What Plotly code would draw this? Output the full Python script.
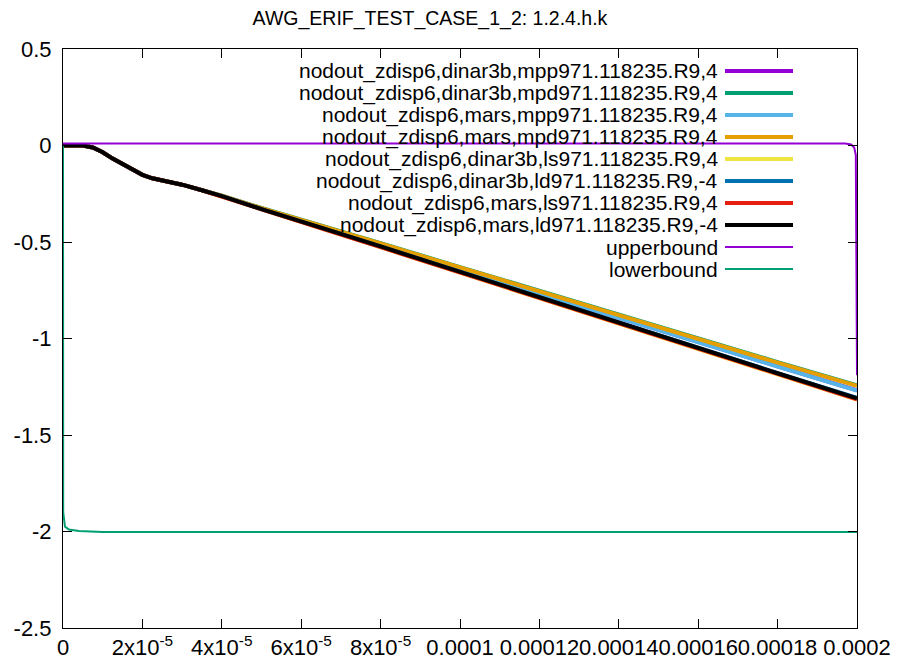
import plotly.graph_objects as go

# time axis shared by the eight solver runs (s)
t = [0.0, 2.5e-6, 5e-6, 7.5e-6, 1.0e-5, 1.25e-5, 1.5e-5, 1.75e-5, 2.0e-5, 2.25e-5,
     2.5e-5, 2.75e-5, 3.0e-5, 3.5e-5, 4e-5, 5e-5, 6e-5, 7e-5, 8e-5, 1.0e-4,
     1.2e-4, 1.4e-4, 1.6e-4, 1.8e-4, 2.0e-4]

head = [0.0, 0.0, 0.0, -0.01, -0.035, -0.068, -0.098, -0.125, -0.152, -0.17,
        -0.181, -0.19, -0.203, -0.232]

dinar3b_mpp = head + [-0.261, -0.327, -0.387, -0.45, -0.513, -0.64, -0.767, -0.893, -1.019, -1.144, -1.268]
dinar3b_mpd = head + [-0.26, -0.324, -0.384, -0.445, -0.506, -0.63, -0.754, -0.877, -1.0, -1.122, -1.242]
mars_mpp = head + [-0.261, -0.327, -0.388, -0.451, -0.514, -0.641, -0.768, -0.895, -1.02, -1.145, -1.27]
mars_mpd = head + [-0.26, -0.325, -0.385, -0.447, -0.508, -0.632, -0.756, -0.88, -1.003, -1.125, -1.245]
dinar3b_ls = head + [-0.264, -0.333, -0.395, -0.461, -0.527, -0.66, -0.793, -0.923, -1.055, -1.186, -1.316]
dinar3b_ld = head + [-0.262, -0.33, -0.392, -0.458, -0.523, -0.655, -0.787, -0.917, -1.049, -1.179, -1.308]
mars_ls = head + [-0.264, -0.333, -0.395, -0.461, -0.527, -0.659, -0.792, -0.922, -1.054, -1.184, -1.315]
mars_ld = head + [-0.262, -0.33, -0.392, -0.458, -0.523, -0.655, -0.788, -0.918, -1.05, -1.18, -1.31]

t_upper = [0.0, 1.97e-4, 1.985e-4, 1.993e-4, 1.997e-4, 2.0e-4]
upper = [0.01, 0.01, 0.005, -0.01, -0.05, -1.19]
t_lower = [0.0, 5e-8, 5e-7, 1.5e-6, 4e-6, 1.0e-5, 2.0e-4]
lower = [0.0, -1.9, -1.975, -1.99, -1.998, -2.003, -2.003]

series = [
    ('nodout_zdisp6,dinar3b,mpp971.118235.R9,4', t, dinar3b_mpp, '#9400d3', 4),
    ('nodout_zdisp6,dinar3b,mpd971.118235.R9,4', t, dinar3b_mpd, '#009e73', 4),
    ('nodout_zdisp6,mars,mpp971.118235.R9,4', t, mars_mpp, '#56b4e9', 4),
    ('nodout_zdisp6,mars,mpd971.118235.R9,4', t, mars_mpd, '#e69f00', 4),
    ('nodout_zdisp6,dinar3b,ls971.118235.R9,4', t, dinar3b_ls, '#f0e442', 4),
    ('nodout_zdisp6,dinar3b,ld971.118235.R9,-4', t, dinar3b_ld, '#0072b2', 4),
    ('nodout_zdisp6,mars,ls971.118235.R9,4', t, mars_ls, '#e51e10', 4),
    ('nodout_zdisp6,mars,ld971.118235.R9,-4', t, mars_ld, '#000000', 4),
    ('upperbound', t_upper, upper, '#9400d3', 2),
    ('lowerbound', t_lower, lower, '#009e73', 2),
]

x_ticks = [0, 2e-5, 4e-5, 6e-5, 8e-5, 1e-4, 1.2e-4, 1.4e-4, 1.6e-4, 1.8e-4, 2e-4]
x_labels = ['0', '2x10<sup>-5</sup>', '4x10<sup>-5</sup>', '6x10<sup>-5</sup>', '8x10<sup>-5</sup>',
            '0.0001', '0.00012', '0.00014', '0.00016', '0.00018', '0.0002']
y_ticks = [0.5, 0, -0.5, -1, -1.5, -2, -2.5]
y_labels = ['0.5', '0', '-0.5', '-1', '-1.5', '-2', '-2.5']

W, H = 899, 666
OFF = 8  # page body margin
# plot area as seen on the page
PX0, PX1, PY0, PY1 = 63, 857, 49, 628
FONT = 'Liberation Sans, Arial, sans-serif'

fig = go.Figure()
for name, xs, ys, color, width in series:
    fig.add_trace(go.Scatter(x=xs, y=ys, mode='lines', name=name,
                             line=dict(color=color, width=width)))

# gnuplot-style key: text right-aligned, sample line to the right
plot_w = PX1 - PX0
plot_h = PY1 - PY0
shapes = []
annotations = []
for i, (name, _, _, color, width) in enumerate(series):
    y_px = 71 + 22 * i
    yp = 1 - (y_px - PY0) / plot_h
    annotations.append(dict(
        x=(720 - PX0) / plot_w, y=yp, xref='paper', yref='paper',
        text=name, showarrow=False, xanchor='right', yanchor='middle',
        font=dict(family=FONT, size=21, color='black'),
    ))
    shapes.append(dict(
        type='line', xref='paper', yref='paper',
        x0=(725 - PX0) / plot_w, x1=(793 - PX0) / plot_w, y0=yp, y1=yp,
        line=dict(color=color, width=width),
    ))

fig.update_layout(
    width=W, height=H,
    margin=dict(l=PX0 - OFF, r=W + OFF - PX1, t=PY0 - OFF, b=H + OFF - PY1, autoexpand=False),
    paper_bgcolor='white', plot_bgcolor='white',
    showlegend=False,
    font=dict(family=FONT, size=22, color='black'),
    title=dict(text='AWG_ERIF_TEST_CASE_1_2: 1.2.4.h.k', x=(430 - OFF) / W, xanchor='center',
               y=1 - 10 / H, yanchor='middle', font=dict(size=19.5)),
    shapes=shapes,
    annotations=annotations,
    xaxis=dict(range=[0, 2e-4], tickvals=x_ticks, ticktext=x_labels, tickangle=0,
               ticks='inside', ticklen=9, showline=True, mirror='ticks',
               linecolor='black', linewidth=1, tickcolor='black',
               showgrid=False, zeroline=False, automargin=False),
    yaxis=dict(range=[-2.5, 0.5], tickvals=y_ticks,
               ticktext=[s + '\u00a0' for s in y_labels],
               ticks='inside', ticklen=9, showline=True, mirror='ticks',
               linecolor='black', linewidth=1, tickcolor='black',
               showgrid=False, zeroline=False, automargin=False),
)

fig.write_html('out.html')
